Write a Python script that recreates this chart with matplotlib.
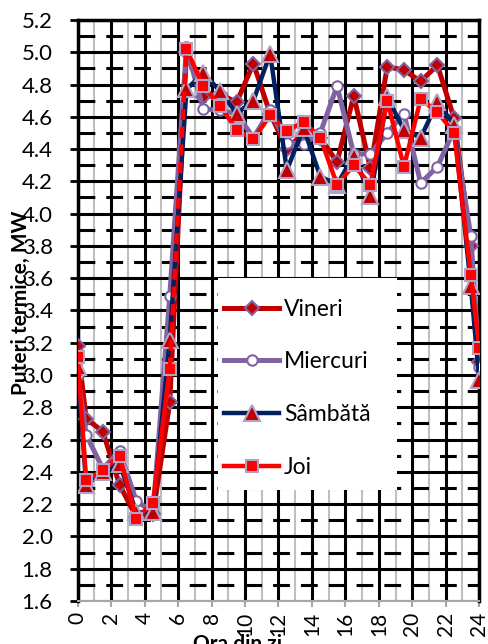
import matplotlib
matplotlib.use('Agg')
import matplotlib.pyplot as plt
from matplotlib.ticker import MultipleLocator
from matplotlib.patches import Rectangle

plt.rcParams['font.family'] = ['Lato', 'DejaVu Sans']

# ora din zi
ore = [0, 0.5, 1.5, 2.5, 3.5, 4.5, 5.5, 6.5, 7.5, 8.5, 9.5, 10.5, 11.5,
       12.5, 13.5, 14.5, 15.5, 16.5, 17.5, 18.5, 19.5, 20.5, 21.5, 22.5, 23.5, 24]

vineri = [3.18, 2.73, 2.65, 2.32, 2.12, 2.14, 2.83, 5.00, 4.72, 4.74, 4.69, 4.93, 4.62,
          4.40, 4.50, 4.47, 4.32, 4.73, 4.28, 4.91, 4.89, 4.82, 4.92, 4.59, 3.80, 3.08]
miercuri = [3.00, 2.63, 2.42, 2.53, 2.22, 2.15, 3.49, 5.03, 4.65, 4.64, 4.62, 4.47, 4.64,
            4.44, 4.43, 4.50, 4.79, 4.37, 4.37, 4.50, 4.62, 4.19, 4.29, 4.52, 3.86, 3.05]
sambata = [3.05, 2.32, 2.40, 2.45, 2.15, 2.15, 3.22, 4.77, 4.87, 4.76, 4.62, 4.70, 4.99,
           4.27, 4.53, 4.23, 4.18, 4.36, 4.11, 4.72, 4.52, 4.47, 4.69, 4.55, 3.55, 2.97]
joi = [3.11, 2.35, 2.41, 2.50, 2.11, 2.21, 3.04, 5.02, 4.79, 4.67, 4.52, 4.46, 4.61,
       4.51, 4.57, 4.47, 4.18, 4.30, 4.18, 4.70, 4.29, 4.71, 4.63, 4.50, 3.62, 3.17]

fig = plt.figure(figsize=(4.89, 6.44), dpi=100)
ax = fig.add_axes([0.159, 0.0668, 0.821, 0.9022])

ax.set_xlim(0, 24)
ax.set_ylim(1.6, 5.2)
ax.xaxis.set_major_locator(MultipleLocator(2))
ax.xaxis.set_minor_locator(MultipleLocator(1))
ax.yaxis.set_major_locator(MultipleLocator(0.2))
ax.yaxis.set_minor_locator(MultipleLocator(0.1))

# grila
ax.grid(True, which='major', axis='both', color='black', lw=2.2, zorder=0)
ax.grid(True, which='minor', axis='x', color='#BFBFBF', lw=1.5, zorder=0)
ax.grid(True, which='minor', axis='y', color='black', lw=2.2,
        linestyle=(0, (5.5, 3.6)), zorder=0)
ax.set_axisbelow(True)

for s in ['left', 'top', 'right']:
    ax.spines[s].set_color('black')
    ax.spines[s].set_linewidth(2.5)
ax.spines['bottom'].set_color('#A6A6A6')
ax.spines['bottom'].set_linewidth(1.5)

ax.tick_params(axis='y', which='major', length=6, width=2, color='black',
               labelsize=16, pad=12)
ax.tick_params(axis='y', which='minor', length=0)
ax.tick_params(axis='x', which='major', length=4, width=1.5, color='#A6A6A6',
               labelsize=15, labelrotation=90, pad=4)
ax.tick_params(axis='x', which='minor', length=0)
ax.set_yticklabels([f'{v:.1f}' for v in ax.get_yticks()])

ax.plot(ore, vineri, color='#C00000', lw=3.6, marker='D', ms=7,
        mfc='#C00000', mec='#8064A2', mew=1.5, label='Vineri', zorder=3)
ax.plot(ore, miercuri, color='#8064A2', lw=3.6, marker='o', ms=7.5,
        mfc='white', mec='#8064A2', mew=1.5, label='Miercuri', zorder=3)
ax.plot(ore, sambata, color='#002060', lw=3.2, marker='^', ms=11,
        mfc='#C00000', mec='#B3A2C7', mew=1.5, label='Sâmbătă', zorder=3)
ax.plot(ore, joi, color='#FF0000', lw=3.2, marker='s', ms=8,
        mfc='#FF0000', mec='#B3A2C7', mew=1.5, label='Joi', zorder=4)
# segmentul 5.5 -> 6.5 al seriei Joi apare punctat
ax.plot(ore[6:8], joi[6:8], color='#FF0000', lw=3.2, linestyle=(0, (2.5, 1.5)), zorder=4)
ax.lines[-2].set_data([ore[:7] + [None] + ore[7:], joi[:7] + [None] + joi[7:]])

# fundal alb pentru legenda
ax.add_patch(Rectangle((0.35, 0.191), 0.446, 0.365, transform=ax.transAxes,
                       facecolor='white', edgecolor='none', zorder=2))
leg = ax.legend(loc='upper left', bbox_to_anchor=(0.365, 0.52), fontsize=16.5,
                frameon=False, borderaxespad=0, borderpad=0, handlelength=2.4,
                handletextpad=0.2, labelspacing=1.38)
leg.set_zorder(5)

fig.text(0.042, 0.53, 'Puteri termice, MW', rotation=90, fontsize=15,
         fontweight='bold', ha='center', va='center')
fig.text(0.485, 0.016, 'Ora din zi', fontsize=15, fontweight='bold',
         ha='center', va='top')

fig.savefig('out.png', dpi=100)
